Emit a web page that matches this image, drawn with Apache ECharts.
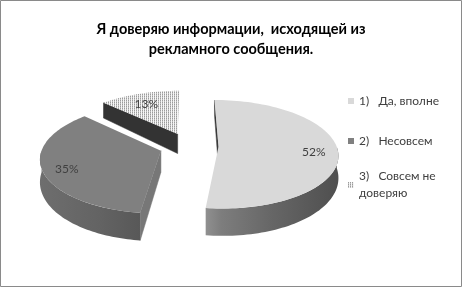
<!DOCTYPE html>
<html>
<head>
<meta charset="utf-8">
<script src="https://cdn.jsdelivr.net/npm/echarts@6/dist/echarts.min.js"></script>
<style>
html,body{margin:0;padding:0;background:#fff;}
#chart{width:462px;height:287px;}
</style>
</head>
<body>
<div id="chart"></div>
<script>
// ---- data ----
const titleText = 'Я доверяю информации,  исходящей из\nрекламного сообщения.';
const categories = ['1)   Да, вполне', '2)   Несовсем', '3)   Совсем не\nдоверяю'];
const values = [52, 35, 13];
const labels = ['52%', '35%', '13%'];

// ---- styles / layout ----
const FONT = 'Lato, "Open Sans", sans-serif';
const CX = 189, CY = 146, RX = 118, RY = 54, K = 0.137, DEPTH = 21, KD = 0.3;
const EXPLODE = 0.25, LABEL_R = 0.8, LABEL_DY = 3;

function makePattern() {
  const c = document.createElement('canvas');
  c.width = 2; c.height = 2;
  const g = c.getContext('2d');
  g.fillStyle = '#f6f6f6'; g.fillRect(0, 0, 2, 2);
  g.fillStyle = '#9c9c9c'; g.fillRect(0, 0, 1, 1);
  g.fillStyle = '#c2c2c2'; g.fillRect(0, 1, 1, 1);
  return c;
}
const pattern = {image: makePattern(), repeat: 'repeat'};

const topColors = ['#d9d9d9', '#808080', pattern];
const wallColors = ['#3a3a3a', '#777777', '#333333'];
const sideColors = [
  [[0, '#909090'], [0.12, '#7d7d7d'], [0.5, '#666666'], [1, '#4f4f4f']],
  [[0, '#6e6e6e'], [0.6, '#636363'], [1, '#585858']],
  [[0, '#555555'], [1, '#444444']]
];

function proj(X, Z, h) {
  const p = 1 - K * Z;
  const dp = 1 - KD * Z;
  return [CX + RX * X * p, CY - RY * Z * p + h * DEPTH * dp];
}

function makeRender(i) {
  return function (params, api) {
    const v = api.value(0);
    const total = values.reduce((s, x) => s + x, 0);
    let cum = 0;
    for (let j = 0; j < i; j++) cum += values[j];
    const a = cum / total * Math.PI * 2;
    const b = (cum + v) / total * Math.PI * 2;
    const m = (a + b) / 2;
    const ox = EXPLODE * Math.sin(m), oz = EXPLODE * Math.cos(m);
    const P = (t, r, h) => proj(ox + r * Math.sin(t), oz + r * Math.cos(t), h);
    const children = [];
    const wall = (t) => ({
      type: 'polygon',
      shape: {points: [P(t, 0, 0), P(t, 1, 0), P(t, 1, 1), P(t, 0, 1)]},
      style: {fill: wallColors[i], stroke: wallColors[i], lineWidth: 0.5}
    });
    if (Math.sin(a) <= 1e-9) children.push(wall(a));
    if (Math.sin(b) > 1e-9) children.push(wall(b));
    const s = Math.max(a, Math.PI / 2), e = Math.min(b, Math.PI * 1.5);
    if (e > s) {
      const N = 60, topPts = [], botPts = [];
      for (let k = 0; k <= N; k++) {
        const t = s + (e - s) * k / N;
        topPts.push(P(t, 1, 0));
        botPts.push(P(t, 1, 1));
      }
      children.push({
        type: 'polygon',
        shape: {points: topPts.concat(botPts.reverse())},
        style: {
          fill: {
            type: 'linear', x: 0, y: 0, x2: 1, y2: 0,
            colorStops: sideColors[i].map(c => ({offset: c[0], color: c[1]}))
          }
        }
      });
    }
    const face = [P(0, 0, 0)];
    const N2 = 90;
    for (let k = 0; k <= N2; k++) face.push(P(a + (b - a) * k / N2, 1, 0));
    children.push({
      type: 'polygon',
      shape: {points: face},
      style: {fill: topColors[i]}
    });
    const lp = P(m, LABEL_R, 0);
    children.push({
      type: 'text',
      x: lp[0], y: lp[1] + LABEL_DY,
      style: {
        text: labels[i], fill: '#404040', font: '12px ' + FONT,
        align: 'center', verticalAlign: 'middle'
      }
    });
    return {type: 'group', children: children};
  };
}

const chart = echarts.init(document.getElementById('chart'), null, {renderer: 'canvas'});
const series = categories.map((name, i) => ({
  type: 'custom',
  name: name,
  coordinateSystem: 'none',
  z: 10 - i,
  itemStyle: {color: topColors[i]},
  data: [[values[i]]],
  renderItem: makeRender(i),
  silent: true,
  animation: false
}));

chart.setOption({
  backgroundColor: '#ffffff',
  animation: false,
  title: {
    text: titleText,
    left: 'center',
    top: 14,
    textStyle: {fontFamily: FONT, fontSize: 14.5, fontWeight: 'bold', color: '#000', lineHeight: 20}
  },
  legend: [
    {
      data: [categories[0], categories[1]],
      orient: 'vertical', left: 343, top: 89,
      itemWidth: 6, itemHeight: 6, itemGap: 26, icon: 'rect',
      selectedMode: false,
      textStyle: {fontFamily: FONT, fontSize: 12, lineHeight: 14, color: '#404040'}
    },
    {
      data: [{name: categories[2], textStyle: {padding: [17, 0, 0, 0]}}],
      orient: 'vertical', left: 343, top: 154.5,
      itemWidth: 6, itemHeight: 6, icon: 'rect',
      selectedMode: false,
      textStyle: {fontFamily: FONT, fontSize: 12, lineHeight: 17, color: '#404040'}
    }
  ],
  graphic: [{
    type: 'rect', silent: true,
    shape: {x: 0.5, y: 0.5, width: 461, height: 286},
    style: {fill: null, stroke: '#8a8a8a', lineWidth: 1}
  }],
  series: series
});
</script>
</body>
</html>
